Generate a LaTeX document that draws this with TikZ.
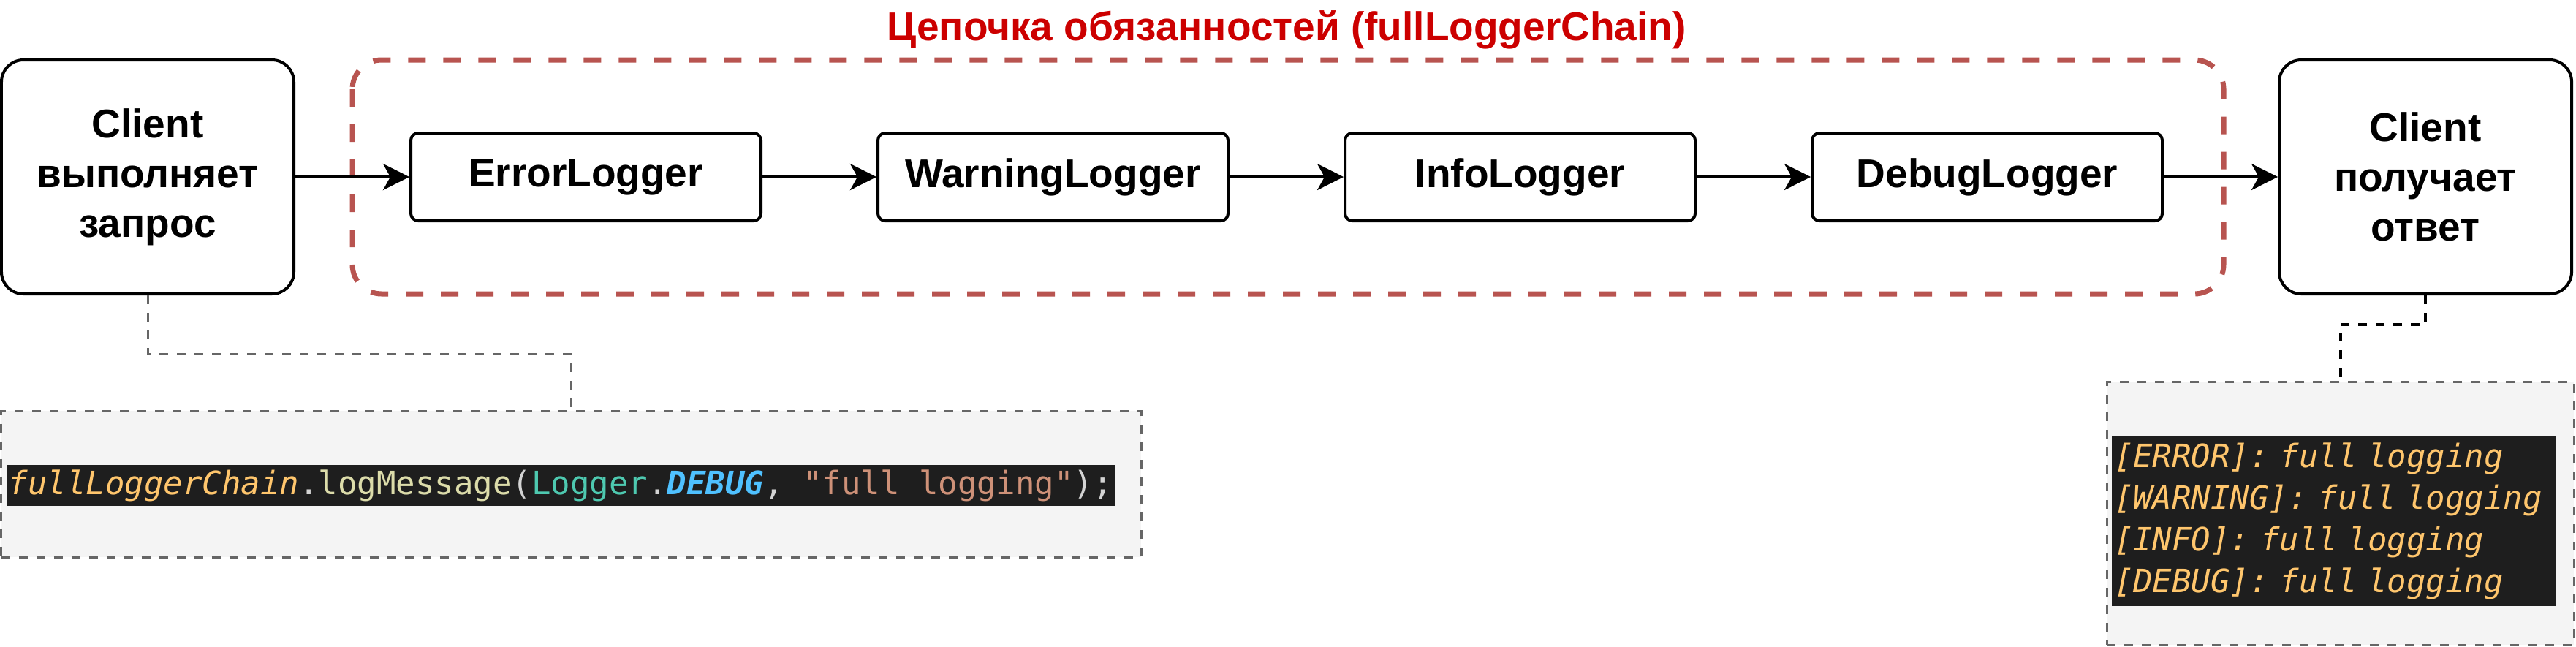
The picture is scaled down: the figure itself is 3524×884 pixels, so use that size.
\documentclass[tikz,border=0pt]{standalone}
\usepackage{fontspec}
\setmainfont{Liberation Sans}
\newfontfamily\codefont{DejaVu Sans Mono}
\usetikzlibrary{arrows.meta, positioning}
\definecolor{chainred}{RGB}{184,84,80}
\definecolor{titlered}{RGB}{204,0,0}
\definecolor{notegray}{RGB}{102,102,102}
\definecolor{notefill}{RGB}{244,244,244}
\definecolor{codebg}{RGB}{30,30,30}
\definecolor{codeyellow}{RGB}{255,198,109}
\definecolor{codemethod}{RGB}{220,220,170}
\definecolor{codeclass}{RGB}{78,201,176}
\definecolor{codeconst}{RGB}{79,193,255}
\definecolor{codestring}{RGB}{206,145,120}
\definecolor{codepunct}{RGB}{212,212,212}

\begin{document}
\begin{tikzpicture}[x=0.2pt, y=-0.2pt,
    client/.style={draw, line width=0.8pt, rounded corners=6pt, minimum width=80pt,
      minimum height=64pt, align=center, inner sep=0pt,
      font=\bfseries\fontsize{11}{13.6}\selectfont},
    logger/.style={draw, line width=0.8pt, rounded corners=2pt, minimum width=95.8pt,
      minimum height=24pt, inner sep=0pt, font=\bfseries\fontsize{11}{13.6}\selectfont},
    flow/.style={-{Stealth[length=7.2pt, width=7.2pt, inset=2pt]}, line width=0.8pt},
    note/.style={draw=notegray, fill=notefill, dash pattern=on 2.4pt off 2.4pt,
      line width=0.6pt, inner sep=0pt},
    codeline/.style={fill=codebg, inner xsep=0.6pt, inner ysep=0pt,
      font=\codefont\fontsize{8.8}{11.4}\selectfont},
    link/.style={dash pattern=on 2.4pt off 2.4pt, line width=0.6pt}
  ]
    \useasboundingbox (0,0) rectangle (3524,884);

    % chain frame and its title
    \draw[chainred, line width=1.4pt, dash pattern=on 4.8pt off 4.8pt, rounded corners=8pt]
      (482,82) rectangle (3042,402);
    \node[anchor=base, text=titlered, font=\bfseries\fontsize{11}{13.6}\selectfont] (title)
      at (1760,55) {Цепочка обязанностей (fullLoggerChain)};

    % clients and loggers
    \node[client] (cl) at (202,242) {Client\\выполняет\\запрос};
    \node[logger, right=31.2pt of cl] (err) {ErrorLogger};
    \node[logger, right=31.2pt of err] (warn) {WarningLogger};
    \node[logger, right=31.2pt of warn] (info) {InfoLogger};
    \node[logger, right=31.2pt of info] (dbg) {DebugLogger};
    \node[client, right=31.2pt of dbg] (cr) {Client\\получает\\ответ};

    \draw[flow] (cl) -- (err);
    \draw[flow] (err) -- (warn);
    \draw[flow] (warn) -- (info);
    \draw[flow] (info) -- (dbg);
    \draw[flow] (dbg) -- (cr);

    % call note
    \node[note, minimum width=311.8pt, minimum height=40pt] (call) at (781.5,662) {};
    \node[codeline, anchor=west, minimum height=11.2pt] (callcode) at (8,664)
      {{\color{codeyellow}\itshape fullLoggerChain}{\color{codepunct}.}{\color{codemethod}logMessage}{\color{codepunct}(}{\color{codeclass}Logger}{\color{codepunct}.}{\color{codeconst}\bfseries\itshape DEBUG}{\color{codepunct}, }{\color{codestring}"full logging"}{\color{codepunct});}};

    % output note
    \node[note, minimum width=127.8pt, minimum height=72pt] (out) at (3201.5,702) {};
    \node[codeline, anchor=north west, align=left, text width=120.4pt, minimum height=46.4pt,
      text=codeyellow] (outlines) at (2888,596)
      {\itshape {[ERROR]}: full logging\\{[WARNING]}: full logging\\{[INFO]}: full logging\\{[DEBUG]}: full logging};

    \draw[link, notegray] (cl.south) -- ++(0,80) -| (call.north);
    \draw[link, line width=0.8pt] (cr.south) -- ++(0,40) -| (out.north);
  \end{tikzpicture}
\end{document}
